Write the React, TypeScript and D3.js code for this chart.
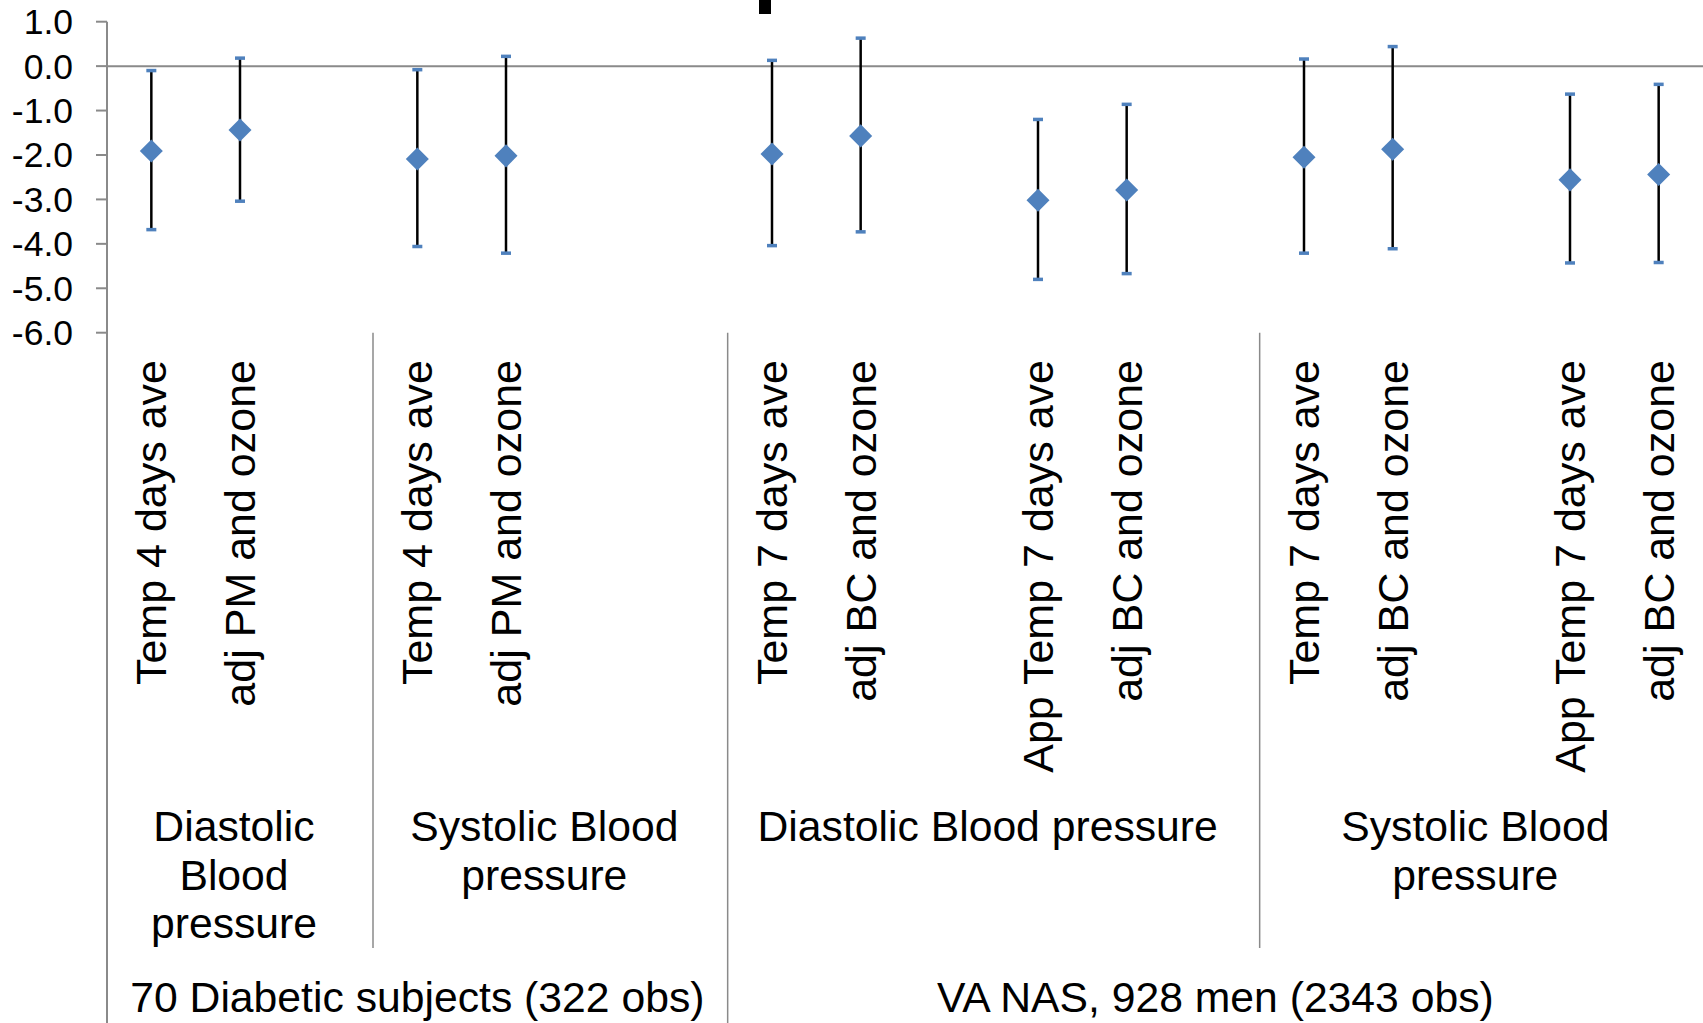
import React from "react";
import * as d3 from "d3";

const categoryLabels = [
  "Temp 4 days ave", "adj PM and ozone", "",
  "Temp 4 days ave", "adj PM and ozone", "", "",
  "Temp 7 days ave", "adj BC and ozone", "", "App Temp 7 days ave", "adj BC and ozone", "",
  "Temp 7 days ave", "adj BC and ozone", "", "App Temp 7 days ave", "adj BC and ozone",
];
const estimates: (number | null)[] = [
  -1.91, -1.44, null,
  -2.09, -2.02, null, null,
  -1.98, -1.57, null, -3.02, -2.79, null,
  -2.05, -1.87, null, -2.56, -2.44,
];
const upperCI: (number | null)[] = [
  -0.1, 0.18, null,
  -0.08, 0.22, null, null,
  0.13, 0.63, null, -1.2, -0.86, null,
  0.16, 0.44, null, -0.63, -0.41,
];
const lowerCI: (number | null)[] = [
  -3.68, -3.04, null,
  -4.06, -4.21, null, null,
  -4.04, -3.73, null, -4.8, -4.67, null,
  -4.21, -4.11, null, -4.43, -4.42,
];
const yTicks = [1, 0, -1, -2, -3, -4, -5, -6];
const groupLabels = [
  ["Diastolic", "Blood", "pressure"],
  ["Systolic Blood", "pressure"],
  ["Diastolic Blood pressure"],
  ["Systolic Blood", "pressure"],
];
const groupSizes = [3, 4, 6, 5];
const outerLabels = ["70 Diabetic subjects (322 obs)", "VA NAS, 928 men (2343 obs)"];
const outerSizes = [7, 11];

const W = 1703;
const H = 1023;
const FONT = "'Liberation Sans', Arial, sans-serif";
const BLUE = "#4F81BD";
const GRAY = "#8a8a8a";

export default function App() {
  const left = 107;
  const x = d3
    .scaleBand<number>()
    .domain(d3.range(categoryLabels.length))
    .range([left, W])
    .padding(0);
  const y = d3.scaleLinear().domain([-6, 1]).range([332.7, 21.7]);
  const bw = x.bandwidth();
  const diamond = d3.symbol().type(d3.symbolSquare).size(265)();

  const groupStarts: number[] = [];
  let acc = 0;
  groupSizes.forEach((s) => {
    groupStarts.push(acc);
    acc += s;
  });
  const outerStarts: number[] = [];
  acc = 0;
  outerSizes.forEach((s) => {
    outerStarts.push(acc);
    acc += s;
  });
  const outerBoundaryIdx = new Set(outerStarts);

  const labelTop = 360;
  const groupBaseline = 841;
  const lineH = 48.5;
  const outerBaseline = 1012;
  const sepBottom = 948;

  return (
    <svg
      width={W}
      height={H}
      style={{ position: "absolute", left: 0, top: 0, background: "#fff" }}
      fontFamily={FONT}
    >
      <rect x={0} y={0} width={W} height={H} fill="#fff" />
      <rect x={759} y={0} width={12} height={14} fill="#000" />

      <line x1={left} x2={left} y1={y(1)} y2={H} stroke={GRAY} strokeWidth={2} />
      {yTicks.map((t) => (
        <g key={t}>
          <line x1={left - 11} x2={left} y1={y(t)} y2={y(t)} stroke={GRAY} strokeWidth={2} />
          <text x={73} y={y(t)} dy="0.35em" textAnchor="end" fontSize={35.5} fill="#000">
            {t.toFixed(1)}
          </text>
        </g>
      ))}
      <line x1={left} x2={W} y1={y(0)} y2={y(0)} stroke={GRAY} strokeWidth={2} />

      {groupStarts.slice(1).map((gs) => (
        <line
          key={"sep" + gs}
          x1={x(gs)!}
          x2={x(gs)!}
          y1={y(-6)}
          y2={outerBoundaryIdx.has(gs) ? H : sepBottom}
          stroke={GRAY}
          strokeWidth={1.5}
        />
      ))}

      {categoryLabels.map((c, i) =>
        c ? (
          <text
            key={"c" + i}
            transform={`translate(${x(i)! + bw / 2},${labelTop}) rotate(-90)`}
            dy="0.35em"
            textAnchor="end"
            fontSize={43}
            fill="#000"
          >
            {c}
          </text>
        ) : null
      )}

      {groupLabels.map((lines, gi) => {
        const cx = x(groupStarts[gi])! + (groupSizes[gi] * bw) / 2 - 6;
        return (
          <text key={"g" + gi} x={cx} y={groupBaseline} textAnchor="middle" fontSize={42.7} fill="#000">
            {lines.map((ln, li) => (
              <tspan key={li} x={cx} y={groupBaseline + li * lineH}>
                {ln}
              </tspan>
            ))}
          </text>
        );
      })}

      {outerLabels.map((lab, oi) => {
        const cx = x(outerStarts[oi])! + (outerSizes[oi] * bw) / 2;
        return (
          <text key={"o" + oi} x={cx} y={outerBaseline} textAnchor="middle" fontSize={42.7} fill="#000">
            {lab}
          </text>
        );
      })}

      {estimates.map((v, i) => {
        if (v == null) return null;
        const cx = x(i)! + bw / 2;
        const hi = upperCI[i]!;
        const lo = lowerCI[i]!;
        return (
          <g key={"p" + i}>
            <line x1={cx} x2={cx} y1={y(hi)} y2={y(lo)} stroke="#000" strokeWidth={2.5} />
            <line x1={cx - 5} x2={cx + 5} y1={y(hi)} y2={y(hi)} stroke={BLUE} strokeWidth={3.5} />
            <line x1={cx - 5} x2={cx + 5} y1={y(lo)} y2={y(lo)} stroke={BLUE} strokeWidth={3.5} />
            <path d={diamond!} transform={`translate(${cx},${y(v)}) rotate(45)`} fill={BLUE} />
          </g>
        );
      })}
    </svg>
  );
}
